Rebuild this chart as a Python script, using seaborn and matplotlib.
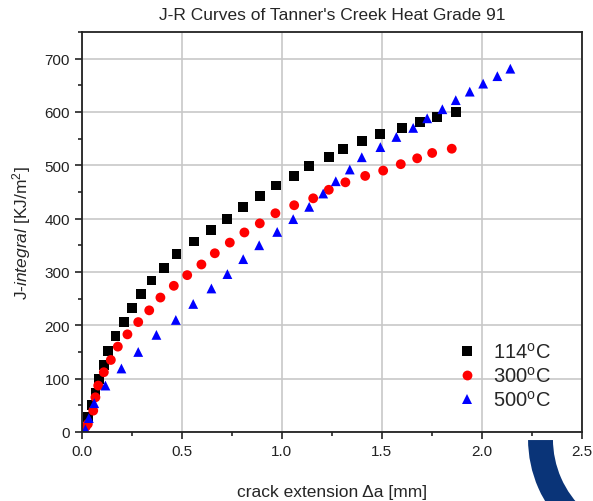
import matplotlib
matplotlib.use("Agg")
import matplotlib.pyplot as plt
import matplotlib.transforms as mtransforms
from matplotlib.patches import Wedge
from matplotlib.ticker import MultipleLocator
import pandas as pd
import seaborn as sns

sns.set_style("ticks")
plt.rcParams["font.family"] = ["Liberation Sans", "DejaVu Sans"]
plt.rcParams["mathtext.fontset"] = "custom"
plt.rcParams["mathtext.rm"] = "Liberation Sans"
plt.rcParams["mathtext.it"] = "Liberation Sans:italic"

# crack extension (mm) and J-integral (KJ/m^2)
da_114 = [0.03, 0.048, 0.068, 0.085, 0.11, 0.132, 0.168, 0.21, 0.25, 0.297, 0.348,
          0.41, 0.473, 0.56, 0.647, 0.728, 0.807, 0.893, 0.972, 1.06, 1.135,
          1.235, 1.307, 1.403, 1.493, 1.60, 1.69, 1.778, 1.87]
j_114 = [28, 50, 74, 99, 125, 152, 180, 206, 233, 258, 284,
         308, 333, 357, 379, 399, 421, 442, 462, 480, 499,
         515, 531, 545, 558, 570, 581, 590, 600]

da_300 = [0.02, 0.03, 0.057, 0.068, 0.082, 0.11, 0.145, 0.18, 0.228, 0.282, 0.337,
          0.393, 0.46, 0.527, 0.598, 0.665, 0.74, 0.813, 0.89, 0.968, 1.062,
          1.157, 1.235, 1.318, 1.417, 1.507, 1.595, 1.677, 1.752, 1.85]
j_300 = [10, 15, 40, 65, 87, 112, 135, 160, 183, 206, 228,
         252, 274, 294, 314, 335, 355, 374, 391, 410, 425,
         438, 454, 468, 480, 490, 502, 513, 523, 531]

da_500 = [0.018, 0.035, 0.062, 0.118, 0.198, 0.282, 0.373, 0.47, 0.557, 0.648,
          0.728, 0.807, 0.887, 0.977, 1.057, 1.137, 1.207, 1.27, 1.34, 1.40,
          1.493, 1.573, 1.657, 1.727, 1.803, 1.87, 1.94, 2.007, 2.078, 2.143]
j_500 = [5, 26, 54, 87, 119, 150, 182, 210, 240, 269,
         296, 324, 350, 375, 399, 422, 447, 470, 492, 515,
         534, 553, 570, 588, 605, 622, 638, 653, 667, 681]

labels = ["114$^{\\rm o}$C", "300$^{\\rm o}$C", "500$^{\\rm o}$C"]

df = pd.concat([
    pd.DataFrame({"da": da_114, "J": j_114, "T": labels[0]}),
    pd.DataFrame({"da": da_300, "J": j_300, "T": labels[1]}),
    pd.DataFrame({"da": da_500, "J": j_500, "T": labels[2]}),
])

fig = plt.figure(figsize=(5.93, 5.02), dpi=100)
ax = fig.add_axes([0.138, 0.1375, 0.843, 0.797])

sns.scatterplot(data=df, x="da", y="J", hue="T", style="T",
                palette={labels[0]: "black", labels[1]: "#ff0000", labels[2]: "#0000ff"},
                markers={labels[0]: "s", labels[1]: "o", labels[2]: "^"},
                s=50, linewidth=0, ax=ax, clip_on=True)

ax.set_xlim(0, 2.5)
ax.set_ylim(0, 750)
ax.xaxis.set_major_locator(MultipleLocator(0.5))
ax.xaxis.set_minor_locator(MultipleLocator(0.25))
ax.yaxis.set_major_locator(MultipleLocator(100))
ax.yaxis.set_minor_locator(MultipleLocator(50))
ax.set_xticks([0, 0.5, 1.0, 1.5, 2.0, 2.5])
ax.set_xticklabels(["0.0", "0.5", "1.0", "1.5", "2.0", "2.5"])
ax.grid(True, which="major", color="#c8c8c8", linewidth=1.2)
ax.set_axisbelow(True)
ax.tick_params(which="major", direction="out", length=5, width=1.2, labelsize=11,
               colors="#222222", top=False, right=False)
ax.tick_params(which="minor", direction="out", length=3, width=1.2,
               top=False, right=False)
for sp in ax.spines.values():
    sp.set_linewidth(1.3)
    sp.set_color("#222222")

ax.set_title("J-R Curves of Tanner's Creek Heat Grade 91", fontsize=12.5, pad=9)
ax.set_xlabel("crack extension \u0394a [mm]", fontsize=12.5, labelpad=19)
ax.set_ylabel("J-$\\it{integral}$ [KJ/m$^2$]", fontsize=12.5, labelpad=8)

sns.move_legend(ax, "lower right", frameon=False, title=None, fontsize=14.5,
                handlelength=0.8, handletextpad=0.9, labelspacing=0.2,
                borderaxespad=0.0, bbox_to_anchor=(0.955, 0.035))

# logo fragment in the lower right corner
logo = Wedge((650, 62), 123, 180, 275, width=27, facecolor="#0a3478",
             edgecolor="white", linewidth=1.5,
             transform=mtransforms.IdentityTransform())
fig.patches.append(logo)

fig.savefig("out.png", dpi=100)
